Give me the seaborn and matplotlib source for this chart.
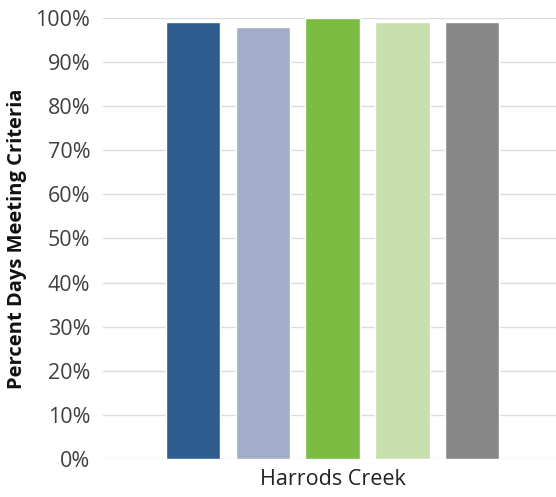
import matplotlib
matplotlib.use('Agg')
import matplotlib.pyplot as plt
import seaborn as sns
import pandas as pd
from matplotlib.ticker import PercentFormatter

# data
sites = ["Harrods Creek"] * 5
series = ["Series 1", "Series 2", "Series 3", "Series 4", "Series 5"]
pct_days = [99, 98, 100, 99, 99]
colors = ["#2E5E8F", "#A2AEC9", "#7ABD42", "#C8DFAE", "#878787"]

df = pd.DataFrame({"site": sites, "series": series, "value": pct_days})

sns.set_style("white")
plt.rcParams['font.family'] = ['Open Sans', 'DejaVu Sans']

fig = plt.figure(figsize=(5.56, 4.97), dpi=100)
ax = fig.add_axes([0.185, 0.0765, 0.815, 0.8875])

sns.barplot(data=df, x="site", y="value", hue="series", palette=colors,
            saturation=1, width=0.77, gap=0.22, legend=False, ax=ax, zorder=3)

ax.set_ylim(0, 100)
ax.set_xlim(-0.507, 0.493)
ax.set_yticks(range(0, 101, 10))
ax.yaxis.set_major_formatter(PercentFormatter(decimals=0))
ax.grid(axis='y', color='#dcdcdc', linewidth=1, zorder=0)
ax.set_axisbelow(True)
for s in ax.spines.values():
    s.set_visible(False)
ax.tick_params(axis='y', length=0, pad=9, labelsize=15.5, labelcolor='#404040')
ax.tick_params(axis='x', length=0, pad=7, labelsize=15.5, labelcolor='#222222')
ax.set_xlabel("")
ax.set_ylabel("Percent Days Meeting Criteria", fontsize=14.5, fontweight='bold',
              color='#111111', labelpad=6)

fig.savefig("out.png", dpi=100)
